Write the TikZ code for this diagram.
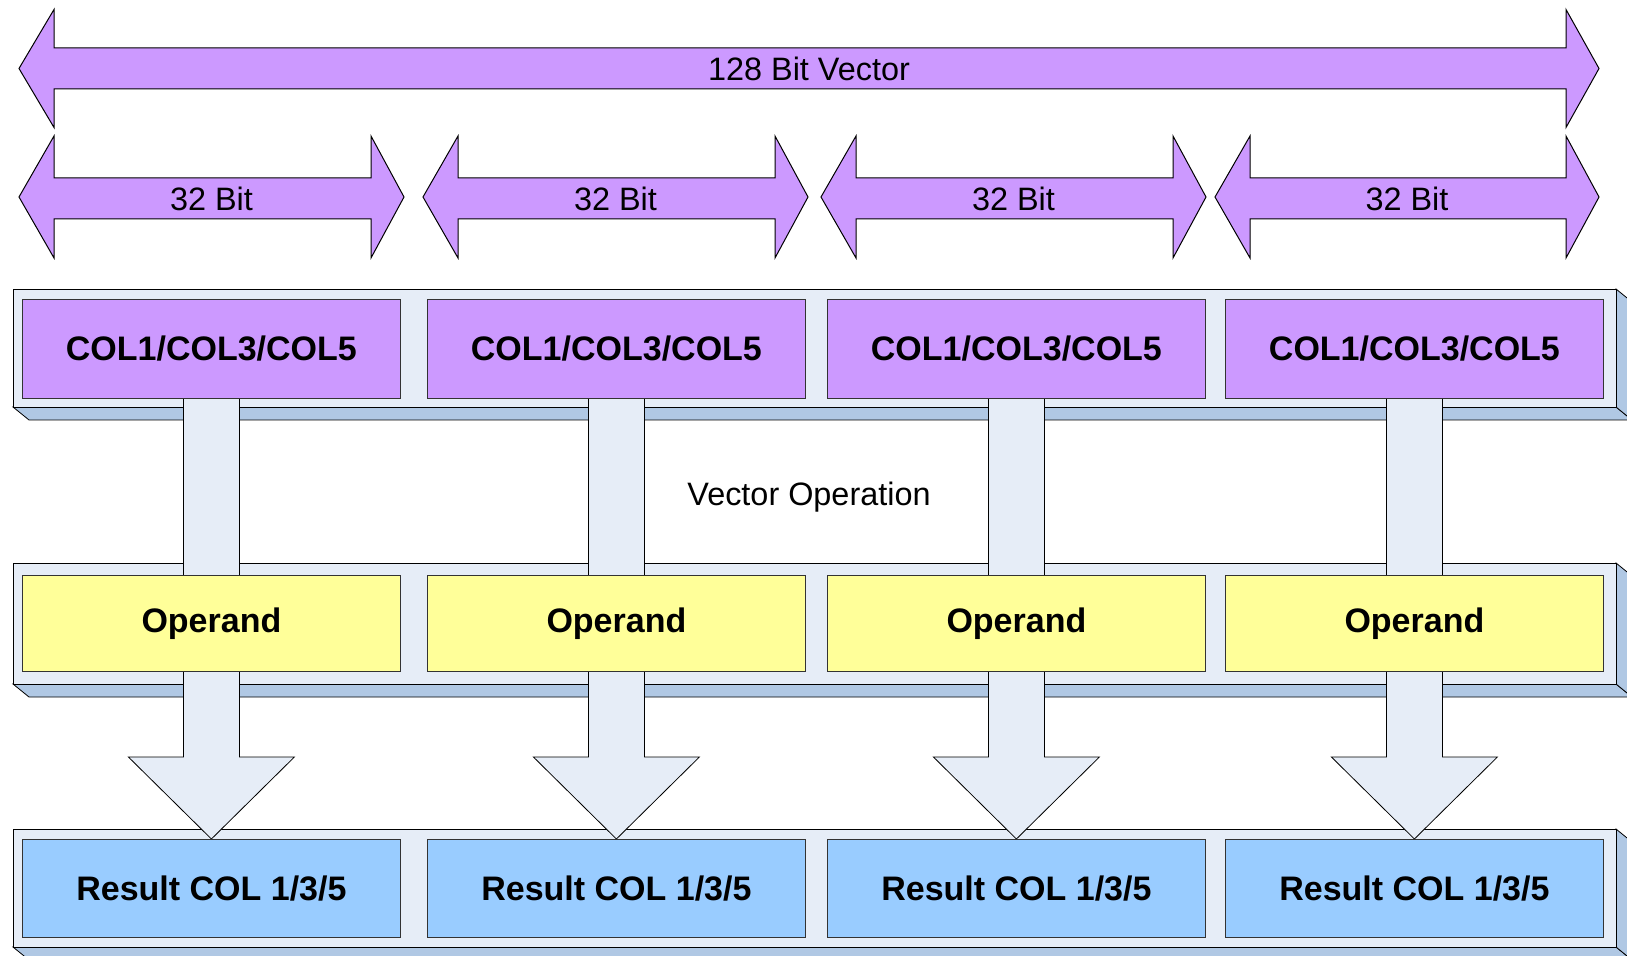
\documentclass[tikz,border=0pt]{standalone}
\usepackage{fontspec}
\setmainfont{Liberation Sans}
\usetikzlibrary{calc}
\pgfdeclarelayer{bars}
\pgfdeclarelayer{stems}
\pgfsetlayers{bars,stems,main}
\definecolor{lilac}{HTML}{CC99FF}
\definecolor{lemon}{HTML}{FFFF99}
\definecolor{sky}{HTML}{99CCFF}
\definecolor{frost}{HTML}{E6EDF7}
\definecolor{shade}{HTML}{B0C8E4}
\begin{document}
\begin{tikzpicture}[x = 0.5pt, y = -0.5pt, line width = 0.5pt,
	bittext/.style = {font = \fontsize{16.2}{19}\selectfont, inner sep = 0pt},
	cell/.style = {draw = black!80, minimum width = 189pt, inner sep = 0pt, font = \bfseries\fontsize{17}{20}\selectfont}]
	\useasboundingbox (0, 0) rectangle (1627, 956);

	% 128 bit arrow
	\draw[fill = lilac] (19, 68.5) -- (54, 9.5) -- (54, 48) -- (1566, 48) -- (1566, 9.5) -- (1599, 68.5) -- (1566, 127.5) -- (1566, 89) -- (54, 89) -- (54, 127.5) -- cycle;
	\node[bittext] (vec) at (809, 68.5) {128 Bit Vector};

	% 32 bit arrows
	\foreach \i/\l/\r in {1/19/404, 2/423/808, 3/821/1206, 4/1215/1599} {
		\draw[fill = lilac] (\l, 197) -- (\l+35, 136) -- (\l+35, 178) -- (\r-33, 178) -- (\r-33, 136) -- (\r, 197) -- (\r-33, 258) -- (\r-33, 219) -- (\l+35, 219) -- (\l+35, 258) -- cycle;
		\node[bittext] (b\i) at ({(\l+\r)/2}, 198.5) {32 Bit};
	}

	% bars
	\begin{pgfonlayer}{bars}
	\foreach \t/\b in {289/407, 563/684, 829/947} {
		\draw[fill = shade] (13, \b) -- (1616, \b) -- (1632, \b+13) -- (29, \b+13) -- cycle;
		\draw[fill = shade] (1616, \t) -- (1632, \t+13) -- (1632, \b+13) -- (1616, \b) -- cycle;
		\draw[fill = frost] (13, \t) rectangle (1616, \b);
	}
	\end{pgfonlayer}

	% boxes
	\foreach \i/\x in {1/22, 2/427, 3/827, 4/1225} {
		\node[cell, fill = lilac, minimum height = 49.5pt, anchor = north west] (c\i) at (\x, 299) {COL1/COL3/COL5};
		\node[cell, fill = lemon, minimum height = 48pt, anchor = north west] (o\i) at (\x, 575) {Operand};
		\node[cell, fill = sky, minimum height = 49pt, anchor = north west] (r\i) at (\x, 839) {Result COL 1/3/5};
	}
	\node[bittext] (op) at (809, 497) {Vector Operation};

	% stems
	\begin{pgfonlayer}{stems}
	\foreach \i in {1, ..., 4} {
		\draw[fill = frost] ($(c\i.south) + (-28, 0)$) -- ($(r\i.north) + (-28, -82)$) -- ($(r\i.north) + (-83, -82)$) -- (r\i.north) -- ($(r\i.north) + (83, -82)$) -- ($(r\i.north) + (28, -82)$) -- ($(c\i.south) + (28, 0)$);
	}
	\end{pgfonlayer}
\end{tikzpicture}
\end{document}
